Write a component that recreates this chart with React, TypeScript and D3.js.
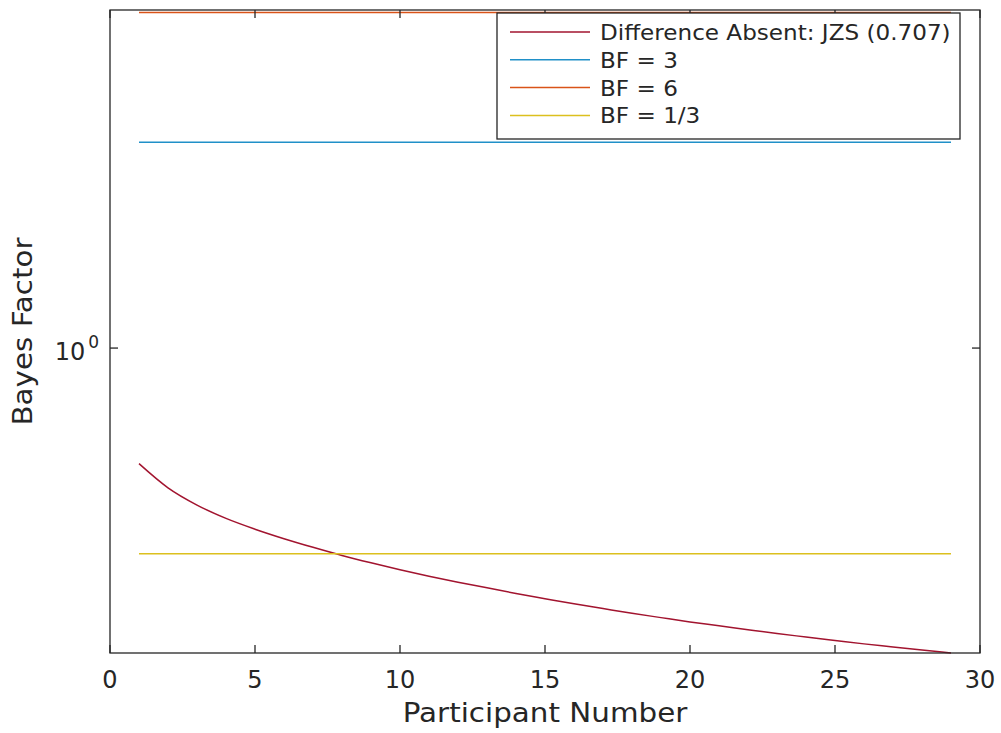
import React from 'react';
import * as d3 from 'd3';

// Participant index and Bayes factor (BF01, JZS prior r = 0.707)
const participants = [1, 2, 3, 4, 5, 6, 7, 8, 9, 10, 11, 12, 13, 14, 15, 16, 17, 18, 19, 20, 21, 22, 23, 24, 25, 26, 27, 28, 29];
const bayesFactor = [
  0.5395, 0.4742, 0.4325, 0.4027, 0.3802, 0.3614, 0.3451, 0.3304, 0.3177, 0.3062,
  0.2958, 0.2864, 0.278, 0.2698, 0.2624, 0.2553, 0.2489, 0.2427, 0.2371, 0.2317,
  0.227, 0.2223, 0.2178, 0.2138, 0.2099, 0.2061, 0.2028, 0.1995, 0.1963,
];

// Reference thresholds drawn as horizontal lines
const thresholdNames = ['BF = 3', 'BF = 6', 'BF = 1/3'];
const thresholdValues = [3, 6, 1 / 3];
const thresholdColors = ['#2090c8', '#d95319', '#dcc01e'];

const curveName = 'Difference Absent: JZS (0.707)';
const curveColor = '#a2142f';

const xTicks = [0, 5, 10, 15, 20, 25, 30];
const xDomain: [number, number] = [0, 30];
const yDomain: [number, number] = [0.1963, 6.08];

const W = 1001;
const H = 733;
const left = 110, right = 980, top = 10, bottom = 653;
const axisColor = '#262626';
const font = 'DejaVu Sans, sans-serif';

export default function App() {
  const x = d3.scaleLinear().domain(xDomain).range([left, right]);
  const y = d3.scaleLog().domain(yDomain).range([bottom, top]);

  const line = d3
    .line<number>()
    .x((_, i) => x(participants[i]))
    .y((d) => y(d))
    .curve(d3.curveMonotoneX);

  const x0 = participants[0];
  const x1 = participants[participants.length - 1];

  const legendItems = [
    { name: curveName, color: curveColor },
    ...thresholdNames.map((n, i) => ({ name: n, color: thresholdColors[i] })),
  ];
  const legX = 497, legY = 13, legW = 463, legH = 126, rowH = 27.8;

  const tick = 8;
  const yOne = y(1);
  const titleStretch = 1.13;

  return (
    <svg width={W} height={H} style={{ position: 'absolute', left: 0, top: 0, background: '#fff' }}>
      <rect x={0} y={0} width={W} height={H} fill="#fff" />
      <defs>
        <clipPath id="plot-area">
          <rect x={left} y={top - 2} width={right - left} height={bottom - top + 4} />
        </clipPath>
      </defs>

      {/* data */}
      <g clipPath="url(#plot-area)">
        <path d={line(bayesFactor) ?? ''} fill="none" stroke={curveColor} strokeWidth={1.5} />
        {thresholdValues.map((v, i) => (
          <line key={i} x1={x(x0)} x2={x(x1)} y1={y(v)} y2={y(v)} stroke={thresholdColors[i]} strokeWidth={1.5} />
        ))}
      </g>

      {/* axes box and ticks */}
      <g stroke={axisColor} strokeWidth={1.3} fill="none">
        <rect x={left} y={top} width={right - left} height={bottom - top} />
        {xTicks.map((t) => (
          <g key={t}>
            <line x1={x(t)} x2={x(t)} y1={bottom} y2={bottom - tick} />
            <line x1={x(t)} x2={x(t)} y1={top} y2={top + tick} />
          </g>
        ))}
        <line x1={left} x2={left + tick} y1={yOne} y2={yOne} />
        <line x1={right} x2={right - tick} y1={yOne} y2={yOne} />
      </g>

      {/* tick labels */}
      <g fill={axisColor} fontFamily={font} fontSize={24}>
        {xTicks.map((t) => (
          <text key={t} x={x(t)} y={688} textAnchor="middle">
            {t}
          </text>
        ))}
        <text x={99} y={yOne + 12} textAnchor="end">
          10
          <tspan fontSize={17} dx={3} dy={-12}>0</tspan>
        </text>
      </g>

      {/* axis titles */}
      <g fill={axisColor} fontFamily={font} fontSize={26}>
        <text
          transform={`translate(${(left + right) / 2}, 722) scale(${titleStretch}, 1)`}
          textAnchor="middle"
        >
          Participant Number
        </text>
        <text
          transform={`translate(32, ${(top + bottom) / 2}) rotate(-90) scale(${titleStretch}, 1)`}
          textAnchor="middle"
        >
          Bayes Factor
        </text>
      </g>

      {/* legend */}
      <g>
        <rect x={legX} y={legY} width={legW} height={legH} fill="#fff" stroke={axisColor} strokeWidth={1.3} />
        {legendItems.map((it, i) => {
          const cy = legY + 19 + i * rowH;
          return (
            <g key={i}>
              <line x1={510} x2={590} y1={cy} y2={cy} stroke={it.color} strokeWidth={1.5} />
              <text
                transform={`translate(600, ${cy + 8}) scale(1.05, 1)`}
                fontFamily={font}
                fontSize={22}
                fill={axisColor}
              >
                {it.name}
              </text>
            </g>
          );
        })}
      </g>
    </svg>
  );
}
